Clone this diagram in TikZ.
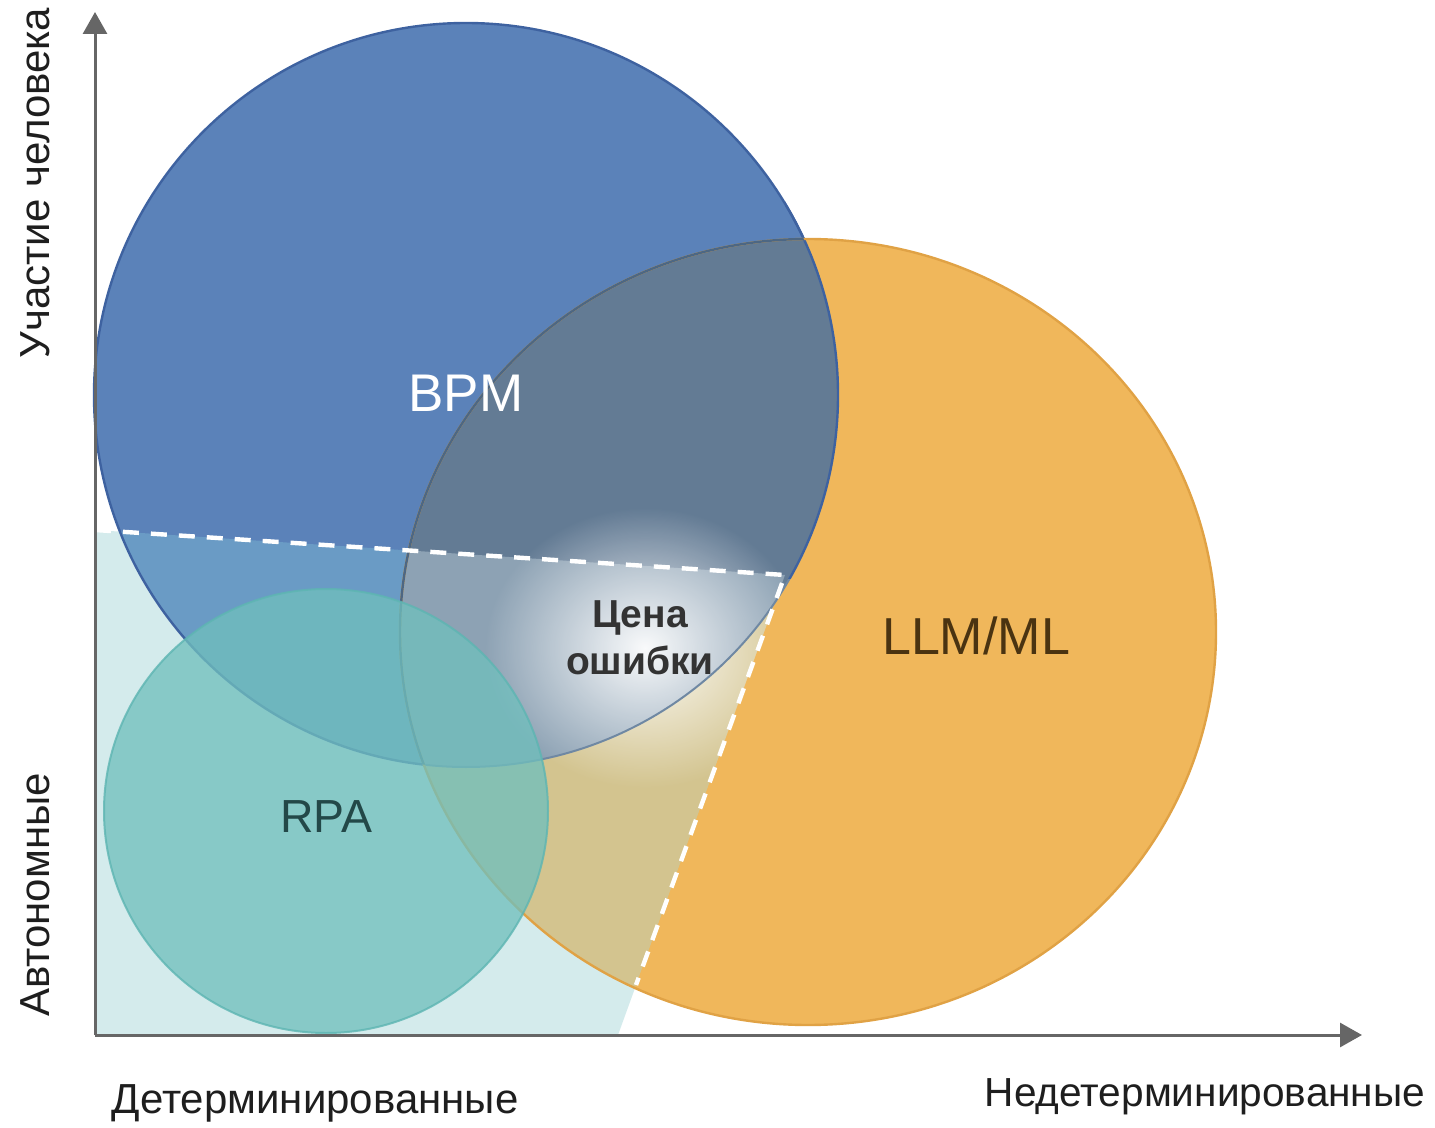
\documentclass[tikz,border=0pt]{standalone}
\usepackage{fontspec}
\setmainfont{Liberation Sans}
\usetikzlibrary{arrows.meta,fadings}
\tikzfading[name=glowfade, inner color=transparent!0, outer color=transparent!100]
\definecolor{pfill}{HTML}{D4EBEC}
\definecolor{bpmc}{HTML}{5B82B9}
\definecolor{bpmlow}{HTML}{6A9BC5}
\definecolor{bpmedge}{HTML}{3E62A0}
\definecolor{llmc}{HTML}{F0B75B}
\definecolor{llmedge}{HTML}{E0A245}
\definecolor{khaki}{HTML}{D3C48F}
\definecolor{slate}{HTML}{637B94}
\definecolor{slatelow}{HTML}{8DA2B4}
\definecolor{slateedge}{HTML}{4D6783}
\definecolor{softedge}{HTML}{6F88A3}
\definecolor{rpac}{HTML}{70BFBD}
\definecolor{rpaedge}{HTML}{5DB5B2}
\definecolor{axisc}{HTML}{666666}
\definecolor{labc}{HTML}{1E1E1E}
\definecolor{llmtxt}{HTML}{4A3311}
\definecolor{rpatxt}{HTML}{234848}
\definecolor{costtxt}{HTML}{333333}
\tikzset{
  axisline/.style={draw=axisc, line width=1.5pt, -{Triangle[width=12pt,length=11pt]}},
  dashline/.style={draw=white, line width=2.2pt, dash pattern=on 8pt off 6pt},
  axislabel/.style={font=\fontsize{21pt}{25pt}\selectfont, text=labc, inner sep=0pt},
  bigtext/.style={inner sep=0pt},
}
\begin{document}
\begin{tikzpicture}[x=0.5pt,y=-0.5pt]
\useasboundingbox (0,0) rectangle (1435,1128);
\def\Ppath{(95,530) -- (785,575) -- (618,1035) -- (95,1035) -- cycle}
\def\Bpath{(466,395) circle (186pt)}
\def\Lpath{(808,632) ellipse [x radius=204pt, y radius=196.5pt]}
\def\Rpath{(326,811) circle (111pt)}
\def\Frame{(-100,-100) rectangle (1600,1300)}
\def\Qpath{(785,578) -- (785,-50) -- (1400,-50) -- (1400,578) -- cycle}
\coordinate (O) at (95,1035);
\coordinate (ytop) at (95,12);
\coordinate (xend) at (1362,1035);
\coordinate (d1) at (95,530);
\coordinate (d2) at (785,575);
\coordinate (d3) at (636,985);
% teal lower-left region
\fill[pfill] \Ppath;
% BPM
\fill[bpmc] \Bpath;
\begin{scope}
  \clip \Bpath;
  \fill[bpmlow] \Ppath;
\end{scope}
% LLM
\fill[llmc] \Lpath;
\begin{scope}
  \clip \Lpath;
  \fill[khaki] \Ppath;
  \clip \Bpath;
  \fill[slate] \Bpath;
  \fill[slatelow] \Ppath;
\end{scope}
% glow
\begin{scope}
  \clip \Lpath;
  \fill[white, path fading=glowfade, opacity=0.95] (645,648) ellipse [x radius=80pt, y radius=70pt];
\end{scope}
% restore plain orange outside BPM and lower region
\begin{scope}[even odd rule]
  \clip \Frame \Bpath;
  \clip \Frame \Ppath;
  \fill[llmc] \Lpath;
\end{scope}
% borders
\begin{scope}[even odd rule]
  \clip \Frame \Lpath;
  \draw[bpmedge, line width=1.2pt] \Bpath;
\end{scope}
\begin{scope}[even odd rule]
  \clip \Lpath;
  \clip \Frame \Qpath;
  \draw[softedge, line width=1pt] \Bpath;
\end{scope}
\begin{scope}
  \clip \Qpath;
  \draw[bpmedge, line width=1.2pt] \Bpath;
\end{scope}
\draw[llmedge, line width=1.2pt] \Lpath;
\begin{scope}
  \clip \Bpath;
  \draw[slateedge, line width=1.2pt] \Lpath;
\end{scope}
% dashed lines
\draw[dashline] (d1) -- (d2) -- (d3);
% RPA
\fill[rpac, opacity=0.77] \Rpath;
\draw[rpaedge, line width=1pt, opacity=0.8] \Rpath;
% axes
\draw[axisline] (O) -- (ytop);
\draw[axisline] (O) -- (xend);
% labels
\node[axislabel, rotate=90] (yhi) at (35,183) {Участие человека};
\node[axislabel, rotate=90] (ylo) at (35,895) {Автономные};
\node[axislabel] (xlo) at (315,1103) {Детерминированные};
\node[axislabel, font=\fontsize{20.3pt}{25pt}\selectfont] (xhi) at (1205,1097) {Недетерминированные};
\node[bigtext, text=white, font=\fontsize{26.5pt}{30pt}\selectfont] (tbpm) at (466,393) {BPM};
\node[bigtext, text=llmtxt, font=\fontsize{26pt}{30pt}\selectfont] (tllm) at (976,636) {LLM/ML};
\node[bigtext, text=rpatxt, font=\fontsize{23.2pt}{28pt}\selectfont] (trpa) at (326,817) {RPA};
\node[bigtext, text=costtxt, align=center, font=\bfseries\fontsize{19.5pt}{23.5pt}\selectfont] (tcost) at (640,638) {Цена\\ошибки};
\end{tikzpicture}
\end{document}
